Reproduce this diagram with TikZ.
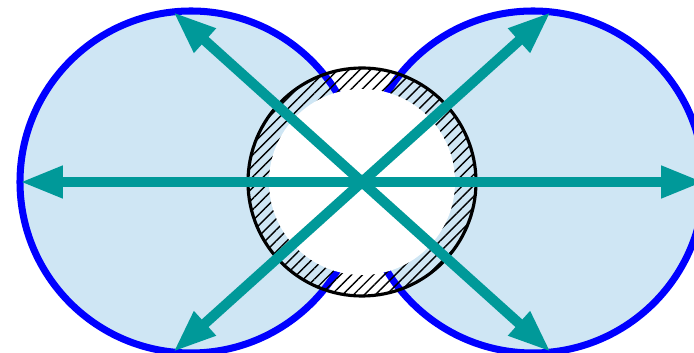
\documentclass[tikz,border=0pt]{standalone}
\usepackage{tikz}
\usetikzlibrary{arrows.meta, patterns.meta}
\definecolor{diskc}{RGB}{0,0,255}
\definecolor{diskfill}{RGB}{207,230,244}
\definecolor{rayc}{RGB}{0,153,153}
\newcommand{\bigR}{1.71}

\begin{document}
\begin{tikzpicture}
  \useasboundingbox (-3.62,-1.71) rectangle (3.32,1.82);
  \coordinate (O) at (0,0);
  \coordinate (cl) at (-\bigR,0);
  \coordinate (cr) at (\bigR,0);
  % the two big disks
  \fill[diskfill] (cl) circle (\bigR);
  \fill[diskfill] (cr) circle (\bigR);
  \draw[diskc, line width=2pt] (cl) circle (\bigR);
  \draw[diskc, line width=2pt] (cr) circle (\bigR);
  % hatched ring round the centre
  \fill[pattern={Lines[angle=45, distance=2.2pt, line width=0.4pt]}] (O) circle (1.14);
  \fill[white] (O) circle (0.93);
  \draw[black, line width=0.9pt] (O) circle (1.14);
  % rays
  \foreach \a/\name in {0/e, 42/ne, 138/nw, 180/w, 222/sw, 318/se}
    \coordinate (\name) at (\a:{abs(2*\bigR*cos(\a))});
  \foreach \name in {e, ne, nw, w, sw, se}
    \draw[rayc, line width=2.9pt, -{Triangle[length=4.3mm, width=3mm]}] (O) -- (\name);
\end{tikzpicture}
\end{document}
